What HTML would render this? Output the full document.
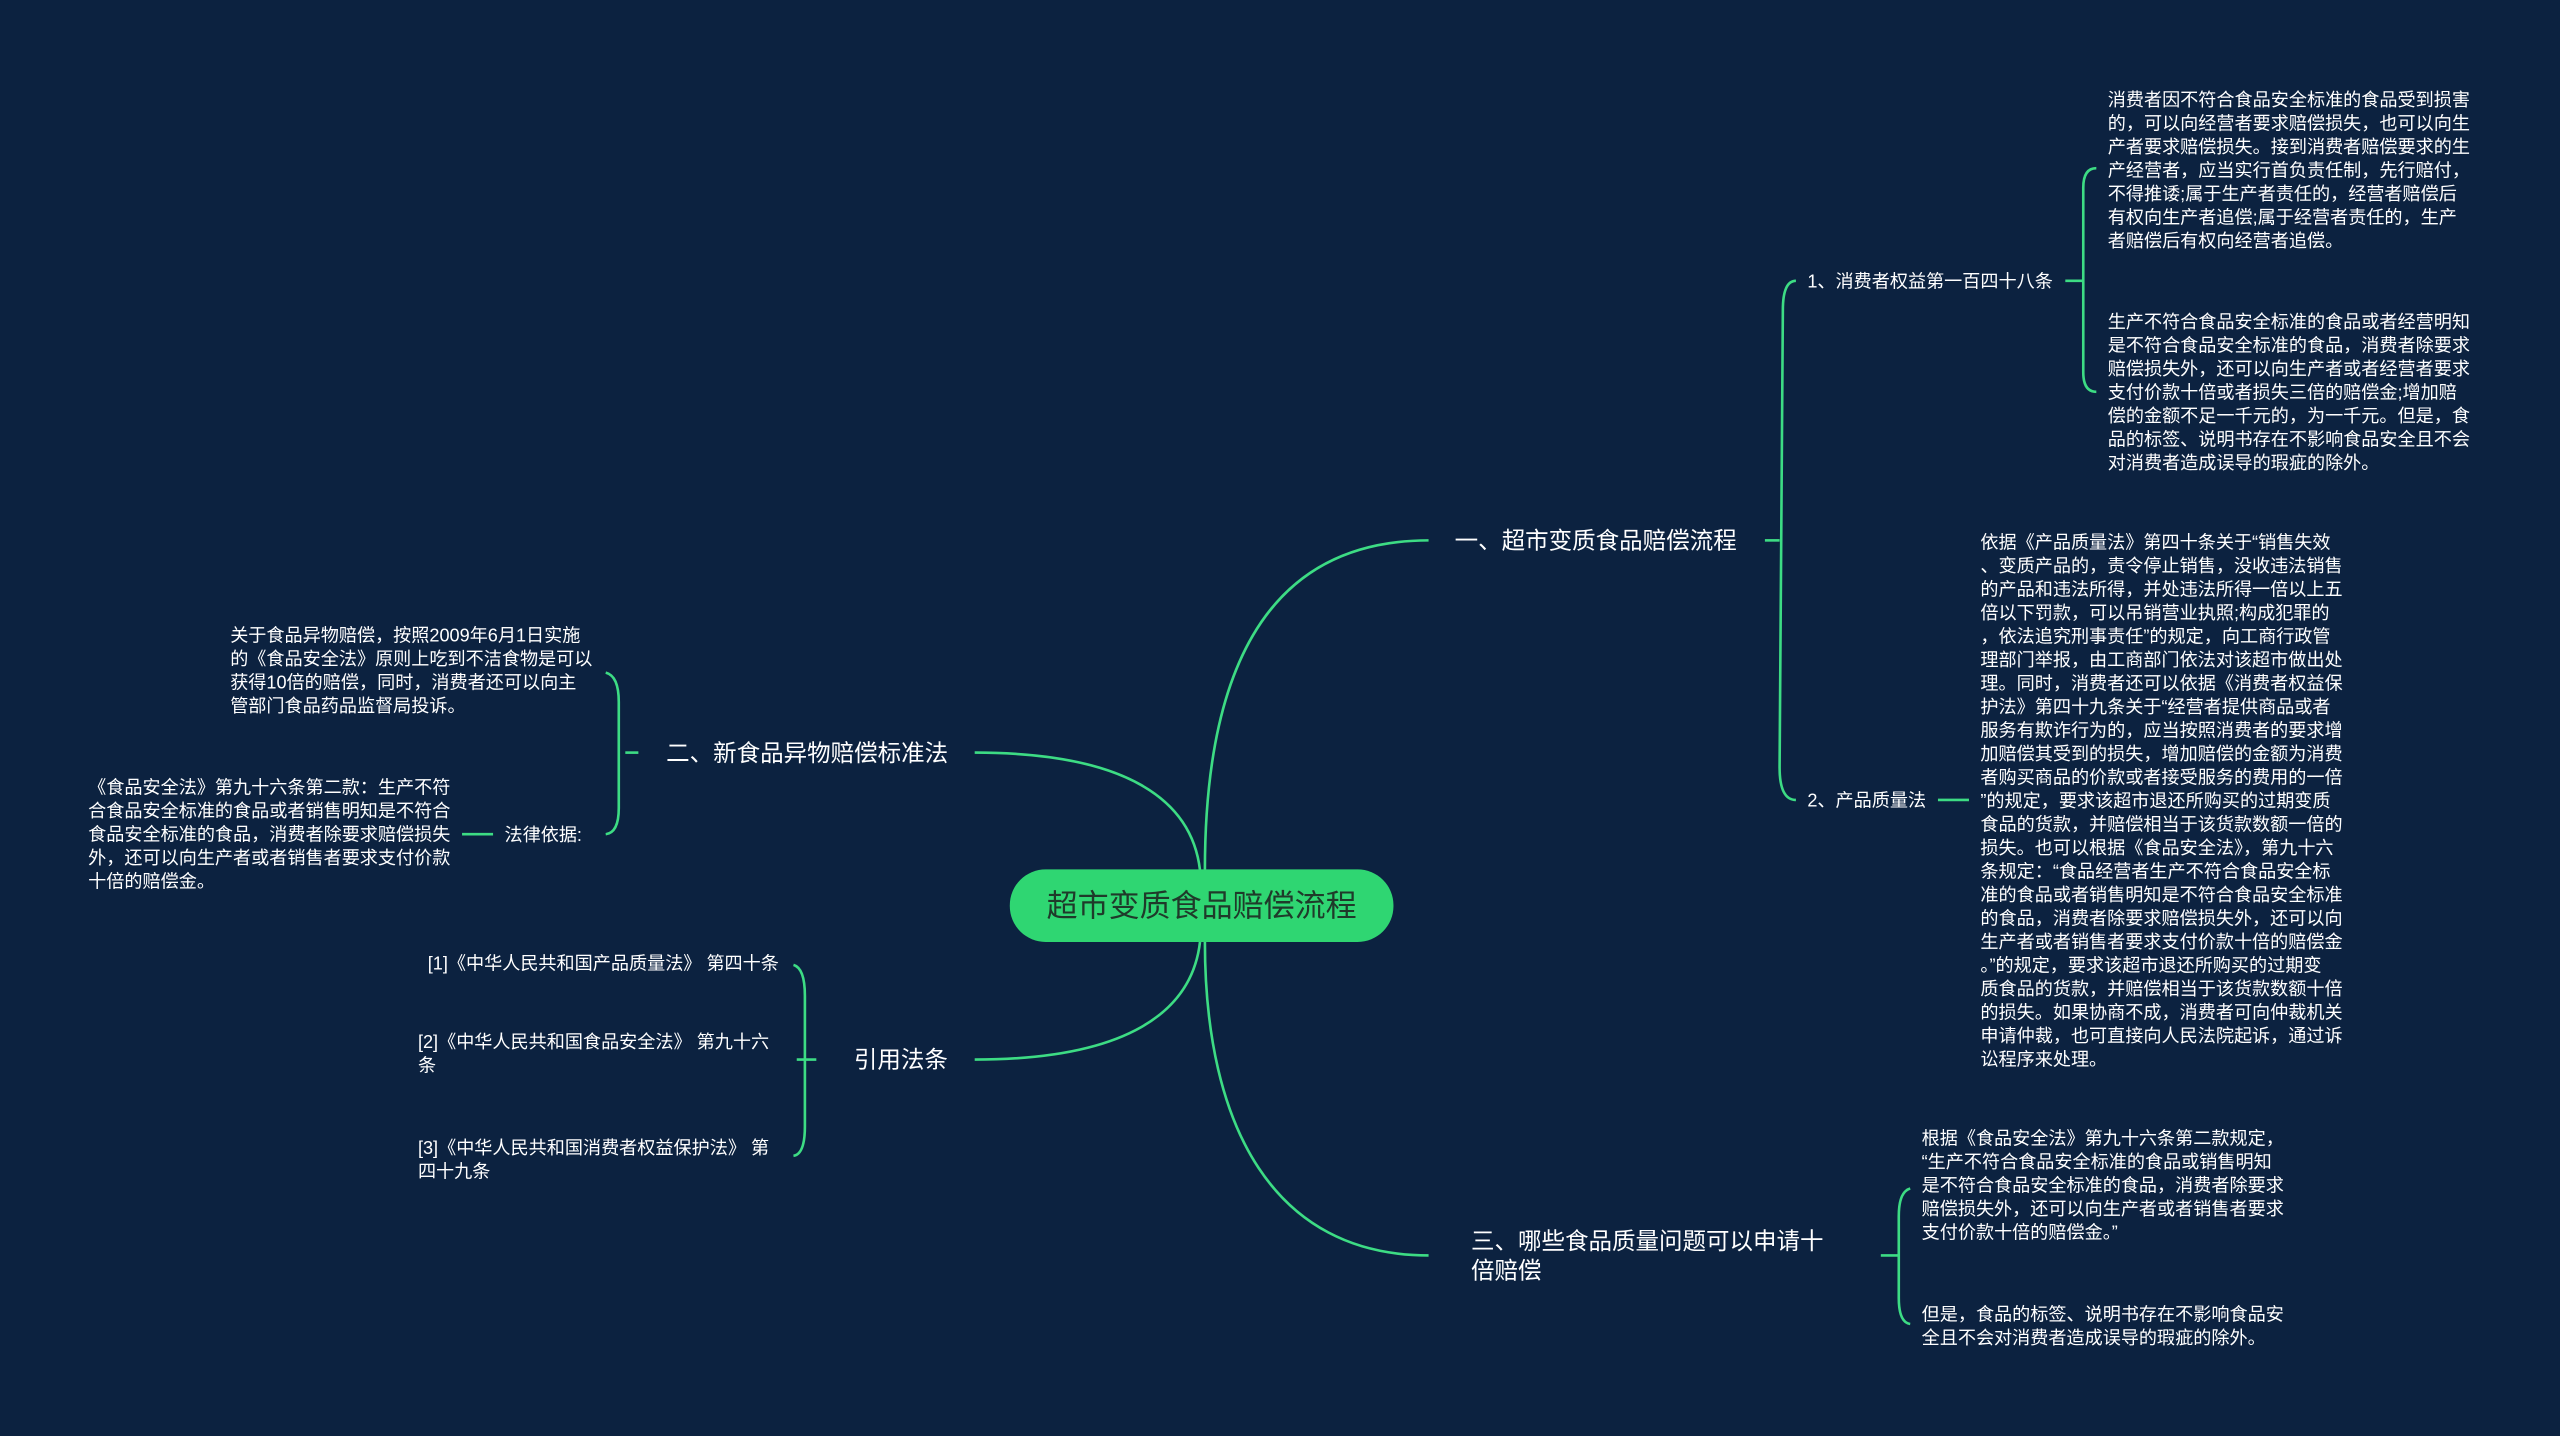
<!DOCTYPE html>
<html><head><meta charset="utf-8"><style>
html,body{margin:0;padding:0;background:#0c2240;}
svg{display:block}
text{font-family:"Liberation Sans","Noto Sans CJK SC",sans-serif;fill:#ffffff;}
.s{font-size:11.1px}
.m{font-size:14.4px}
</style></head><body>
<svg width="2560" height="1436" viewBox="0 0 1568 879.6" preserveAspectRatio="none" xmlns="http://www.w3.org/2000/svg">
<rect width="1568" height="880" fill="#0c2240"/>
<g fill="none" stroke="#3ddc84" stroke-width="1.6">
<path d="M738,533 C738,420 770,331 875,331"/>
<path d="M735,533 C730,490 690,461 597,461"/>
<path d="M735,577 C730,620 690,649 597,649"/>
<path d="M738,577 C738,690 780,769 875,769"/>
<path d="M1081,331 L1090,331"/>
<path d="M1100,172 Q1092,172 1092,190 L1090,470 Q1090,490 1100,490"/>
<path d="M1265,172 L1276,172"/>
<path d="M1284,103 Q1276,103 1276,115 L1276,228 Q1276,240 1284,240"/>
<path d="M1187,490 L1206,490"/>
<path d="M383,461 L391,461"/>
<path d="M371,412 Q379,414 379,430 L379,495 Q379,510 371,511"/>
<path d="M283,511 L302,511"/>
<path d="M488,649 L500,649"/>
<path d="M486,591 Q493,593 493,610 L493,690 Q493,707 486,708"/>
<path d="M1152,769 L1163,769"/>
<path d="M1170,728 Q1163,730 1163,745 L1163,795 Q1163,810 1170,811"/>
</g>
<rect x="618.5" y="532.5" width="235" height="44.5" rx="22" fill="#2fd672"/>
<text x="736" y="561.5" text-anchor="middle" style="font-size:19px;fill:#1f3a2a">超市变质食品赔偿流程</text>

<text class="m" x="891" y="336">一、超市变质食品赔偿流程</text>
<text class="m" x="408" y="466">二、新食品异物赔偿标准法</text>
<text class="m" x="523" y="654">引用法条</text>
<text class="m" x="901" y="765">三、哪些食品质量问题可以申请十</text>
<text class="m" x="901" y="783">倍赔偿</text>

<text class="s" x="1107" y="176">1、消费者权益第一百四十八条</text>
<text class="s" x="1107" y="494">2、产品质量法</text>
<text class="s" x="309" y="515">法律依据:</text>

<g class="s">
<text x="1291" y="65">消费者因不符合食品安全标准的食品受到损害</text>
<text x="1291" y="79.4">的，可以向经营者要求赔偿损失，也可以向生</text>
<text x="1291" y="93.8">产者要求赔偿损失。接到消费者赔偿要求的生</text>
<text x="1291" y="108.2">产经营者，应当实行首负责任制，先行赔付，</text>
<text x="1291" y="122.6">不得推诿;属于生产者责任的，经营者赔偿后</text>
<text x="1291" y="137">有权向生产者追偿;属于经营者责任的，生产</text>
<text x="1291" y="151.4">者赔偿后有权向经营者追偿。</text>

<text x="1291" y="201">生产不符合食品安全标准的食品或者经营明知</text>
<text x="1291" y="215.4">是不符合食品安全标准的食品，消费者除要求</text>
<text x="1291" y="229.8">赔偿损失外，还可以向生产者或者经营者要求</text>
<text x="1291" y="244.2">支付价款十倍或者损失三倍的赔偿金;增加赔</text>
<text x="1291" y="258.6">偿的金额不足一千元的，为一千元。但是，食</text>
<text x="1291" y="273">品的标签、说明书存在不影响食品安全且不会</text>
<text x="1291" y="287.4">对消费者造成误导的瑕疵的除外。</text>
</g>

<g class="s">
<text x="1213" y="336">依据《产品质量法》第四十条关于“销售失效</text>
<text x="1213" y="350.4">、变质产品的，责令停止销售，没收违法销售</text>
<text x="1213" y="364.8">的产品和违法所得，并处违法所得一倍以上五</text>
<text x="1213" y="379.2">倍以下罚款，可以吊销营业执照;构成犯罪的</text>
<text x="1213" y="393.6">，依法追究刑事责任”的规定，向工商行政管</text>
<text x="1213" y="408">理部门举报，由工商部门依法对该超市做出处</text>
<text x="1213" y="422.4">理。同时，消费者还可以依据《消费者权益保</text>
<text x="1213" y="436.8">护法》第四十九条关于“经营者提供商品或者</text>
<text x="1213" y="451.2">服务有欺诈行为的，应当按照消费者的要求增</text>
<text x="1213" y="465.6">加赔偿其受到的损失，增加赔偿的金额为消费</text>
<text x="1213" y="480">者购买商品的价款或者接受服务的费用的一倍</text>
<text x="1213" y="494.4">”的规定，要求该超市退还所购买的过期变质</text>
<text x="1213" y="508.8">食品的货款，并赔偿相当于该货款数额一倍的</text>
<text x="1213" y="523.2">损失。也可以根据《食品安全法》，第九十六</text>
<text x="1213" y="537.6">条规定：“食品经营者生产不符合食品安全标</text>
<text x="1213" y="552">准的食品或者销售明知是不符合食品安全标准</text>
<text x="1213" y="566.4">的食品，消费者除要求赔偿损失外，还可以向</text>
<text x="1213" y="580.8">生产者或者销售者要求支付价款十倍的赔偿金</text>
<text x="1213" y="595.2">。”的规定，要求该超市退还所购买的过期变</text>
<text x="1213" y="609.6">质食品的货款，并赔偿相当于该货款数额十倍</text>
<text x="1213" y="624">的损失。如果协商不成，消费者可向仲裁机关</text>
<text x="1213" y="638.4">申请仲裁，也可直接向人民法院起诉，通过诉</text>
<text x="1213" y="652.8">讼程序来处理。</text>
</g>

<g class="s">
<text x="141" y="393">关于食品异物赔偿，按照2009年6月1日实施</text>
<text x="141" y="407.4">的《食品安全法》原则上吃到不洁食物是可以</text>
<text x="141" y="421.8">获得10倍的赔偿，同时，消费者还可以向主</text>
<text x="141" y="436.2">管部门食品药品监督局投诉。</text>

<text x="54" y="486">《食品安全法》第九十六条第二款：生产不符</text>
<text x="54" y="500.4">合食品安全标准的食品或者销售明知是不符合</text>
<text x="54" y="514.8">食品安全标准的食品，消费者除要求赔偿损失</text>
<text x="54" y="529.2">外，还可以向生产者或者销售者要求支付价款</text>
<text x="54" y="543.6">十倍的赔偿金。</text>

<text x="262" y="594">[1]《中华人民共和国产品质量法》 第四十条</text>
<text x="256" y="642">[2]《中华人民共和国食品安全法》 第九十六</text>
<text x="256" y="656.4">条</text>
<text x="256" y="707">[3]《中华人民共和国消费者权益保护法》 第</text>
<text x="256" y="721.4">四十九条</text>

<text x="1177" y="701">根据《食品安全法》第九十六条第二款规定，</text>
<text x="1177" y="715.4">“生产不符合食品安全标准的食品或销售明知</text>
<text x="1177" y="729.8">是不符合食品安全标准的食品，消费者除要求</text>
<text x="1177" y="744.2">赔偿损失外，还可以向生产者或者销售者要求</text>
<text x="1177" y="758.6">支付价款十倍的赔偿金。”</text>
<text x="1177" y="809">但是，食品的标签、说明书存在不影响食品安</text>
<text x="1177" y="823.4">全且不会对消费者造成误导的瑕疵的除外。</text>
</g>
</svg>
</body></html>
